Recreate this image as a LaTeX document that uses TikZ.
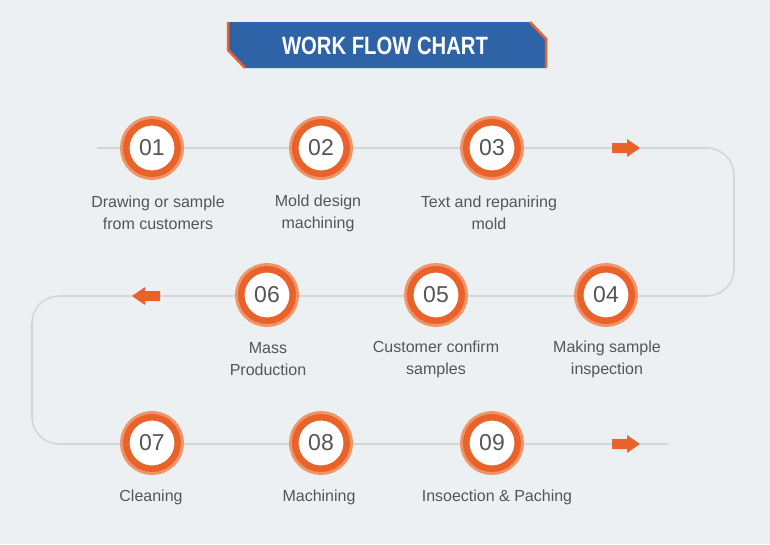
\documentclass[tikz,border=0pt]{standalone}
\usepackage{fontspec}
\setmainfont{Liberation Sans}
\definecolor{bgc}{HTML}{EDF0F3}
\definecolor{linec}{HTML}{D2D6DA}
\definecolor{orangec}{HTML}{E8622A}
\definecolor{lightorc}{HTML}{F0946A}
\definecolor{textc}{HTML}{555555}
\definecolor{bluec}{HTML}{2E63A8}
\tikzset{
  stepcirc/.style={circle, fill=white, draw=orangec, line width=6.5pt, minimum size=51.5pt, inner sep=0pt,
    preaction={draw=lightorc, line width=12.5pt},
    text=textc, font=\fontsize{23}{23}\selectfont},
  steplabel/.style={align=center, text=textc, font=\fontsize{16}{22}\selectfont, inner sep=0pt},
  flowline/.style={draw=linec, line width=1.6pt, rounded corners=27pt},
  arrowc/.style={fill=orangec},
  pics/rarr/.style={code={\fill[arrowc] (-14,-5) -- (1,-5) -- (1,-9) -- (14,0) -- (1,9) -- (1,5) -- (-14,5) -- cycle;}},
  pics/larr/.style={code={\fill[arrowc] (14,-5) -- (-1,-5) -- (-1,-9) -- (-14,0) -- (-1,9) -- (-1,5) -- (14,5) -- cycle;}}
}
\begin{document}
\begin{tikzpicture}[x=1pt,y=1pt]
\fill[bgc] (0,0) rectangle (770,-544);
\useasboundingbox (0,0) rectangle (770,-544);
% banner
\fill[bluec] (228,-22) -- (530,-22) -- (546,-39) -- (546,-68) -- (245,-68) -- (228,-50) -- cycle;
\draw[orangec, line width=2.5pt] (228,-22) -- (228,-50) -- (245,-68);
\draw[orangec, line width=2.5pt] (530,-22) -- (546,-39) -- (546,-68);
\node[text=white, font=\bfseries\fontsize{25}{25}\selectfont] (title) at (385,-46) {\scalebox{0.81}[1]{WORK FLOW CHART}};
% flow line
\coordinate (ls) at (97,-148);
\coordinate (le) at (668,-444);
\coordinate (k1) at (734,-148);
\coordinate (k2) at (734,-296);
\coordinate (k3) at (32,-296);
\coordinate (k4) at (32,-444);
\draw[flowline] (ls) -- (k1) -- (k2) -- (k3) -- (k4) -- (le);
% arrows
\pic (a1) at (626,-148) {rarr};
\pic (a2) at (146,-296) {larr};
\pic (a3) at (626,-444) {rarr};
% circles
\node[stepcirc] (c1) at (152,-148) {01};
\node[stepcirc] (c2) at (321,-148) {02};
\node[stepcirc] (c3) at (492,-148) {03};
\node[stepcirc] (c6) at (267,-295) {06};
\node[stepcirc] (c5) at (436,-295) {05};
\node[stepcirc] (c4) at (606,-295) {04};
\node[stepcirc] (c7) at (152,-443) {07};
\node[stepcirc] (c8) at (321,-443) {08};
\node[stepcirc] (c9) at (492,-443) {09};
% labels
\node[steplabel] (t1) at (158,-213) {Drawing or sample\\from customers};
\node[steplabel] (t2) at (318,-213) {Mold design\\machining};
\node[steplabel] (t3) at (489,-213) {Text and repaniring\\mold};
\node[steplabel] (t6) at (268,-359) {Mass\\Production};
\node[steplabel] (t5) at (436,-359) {Customer confirm\\samples};
\node[steplabel] (t4) at (607,-359) {Making sample\\inspection};
\node[steplabel] (t7) at (151,-497) {Cleaning};
\node[steplabel] (t8) at (319,-497) {Machining};
\node[steplabel] (t9) at (497,-497) {Insoection \& Paching};
\end{tikzpicture}
\end{document}
